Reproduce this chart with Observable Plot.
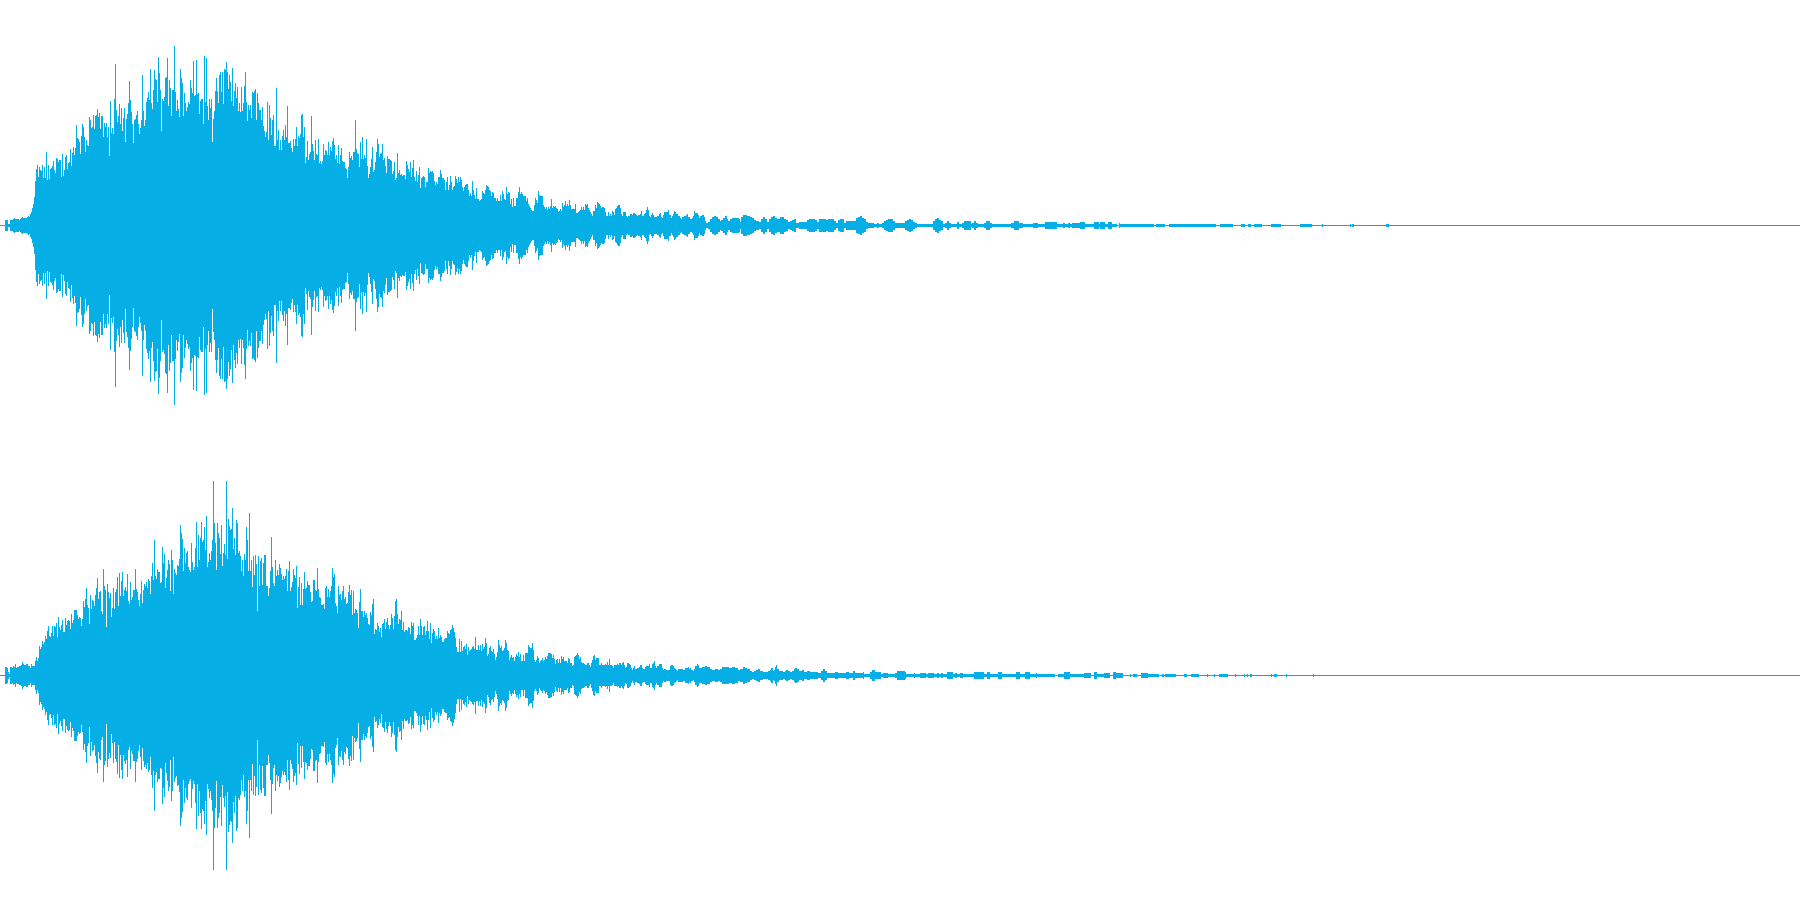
<!DOCTYPE html>
<html>
<head>
<meta charset="utf-8">
<style>
html,body{margin:0;padding:0;background:#fff;}
svg{display:block;}
</style>
<script src="https://cdn.jsdelivr.net/npm/d3@7"></script>
<script src="https://cdn.jsdelivr.net/npm/@observablehq/plot@0.6"></script>
</head>
<body>
<div id="chart"></div>
<script>
// Peak level per pixel column. One channel's envelope is mirrored about zero.
const leftIntro = [[0,0],[5,5],[8,1],[10,5],[13,6],[14,7],[15,6],[19,5],[20,6],[21,7],[22,8],[23,7],[26,7],[27,8],[28,9],[29,8]];
const leftDenseStart = 30;
const leftDense = [
11,13,17,21,28,44,56,60,48,58,
55,54,60,47,58,47,73,45,60,46,
56,57,59,64,55,52,67,66,63,65,
65,48,71,49,55,68,70,56,62,63,
76,59,72,78,70,77,100,87,86,83,
71,89,101,98,88,73,85,80,79,108,
105,97,98,110,96,109,110,116,108,112,
96,109,109,88,102,98,102,88,98,69,
124,92,97,91,126,161,115,103,109,121,
101,117,94,107,117,83,106,111,122,144,
125,113,101,82,105,106,110,114,101,91,
97,105,150,114,99,105,123,127,133,125,
156,122,116,135,155,146,145,123,168,152,
135,94,126,124,128,147,148,167,119,145,
137,109,135,135,179,133,114,125,116,108,
156,147,142,109,132,122,114,118,123,121,
145,137,132,164,129,130,165,131,132,111,
124,126,126,101,169,123,167,119,105,126,
117,126,83,106,114,134,147,134,122,150,
153,133,153,121,156,155,163,153,136,150,
143,124,157,119,134,142,127,138,114,122,
113,138,114,122,139,153,123,104,120,115,
120,107,133,132,134,136,105,132,122,115,
115,105,118,99,94,88,93,123,85,120,
107,90,105,110,79,79,137,85,95,75,
85,75,89,95,85,100,88,119,82,82,
84,77,73,86,79,86,98,79,89,87,
91,110,111,88,98,62,68,84,65,71,
73,109,81,74,65,85,71,70,86,62,
64,61,64,81,70,75,74,70,83,70,
78,74,84,87,80,66,70,62,80,61,
70,77,64,63,63,57,56,47,58,73,
67,69,65,73,73,105,76,72,71,58,
83,66,88,66,70,67,86,59,47,51,
58,66,78,53,55,63,73,86,81,68,
71,72,81,65,67,59,52,69,66,66,
65,64,51,54,63,45,47,72,52,55];
const leftTail = [[400,50],[401,51],[402,49],[403,50],[405,46],[406,64],[407,60],[408,56],[409,53],[410,63],[411,48],[412,57],[413,65],[414,48],[415,44],[416,54],[417,43],[418,50],[419,58],[420,37],[421,47],[422,48],[423,49],[424,48],[425,38],[426,43],[428,57],[429,52],[430,54],[431,53],[432,54],[433,52],[434,44],[435,40],[436,43],[437,41],[438,48],[440,55],[441,51],[442,47],[444,45],[445,35],[446,43],[447,48],[448,35],[449,40],[450,49],[451,43],[452,35],[453,38],[454,39],[455,49],[456,46],[457,42],[458,48],[459,43],[460,48],[461,45],[462,38],[463,34],[464,38],[465,40],[466,41],[468,35],[469,29],[470,32],[471,29],[472,44],[473,35],[474,30],[475,26],[476,37],[477,26],[479,24],[480,25],[481,26],[482,34],[483,32],[484,31],[485,35],[486,40],[487,39],[488,38],[489,35],[490,34],[491,29],[492,33],[493,32],[494,27],[496,24],[497,27],[498,24],[500,30],[501,24],[502,34],[503,31],[504,26],[505,25],[506,38],[507,31],[508,33],[509,32],[510,21],[511,26],[512,18],[513,27],[514,19],[516,27],[518,33],[519,38],[520,31],[521,33],[522,31],[523,29],[526,24],[527,27],[528,21],[529,19],[530,17],[531,15],[532,14],[534,20],[535,27],[536,25],[537,22],[538,34],[539,30],[540,29],[543,20],[544,18],[545,16],[546,18],[547,15],[548,18],[549,16],[550,19],[551,26],[552,17],[553,19],[554,18],[555,19],[556,17],[557,16],[558,13],[559,14],[560,16],[561,14],[562,22],[563,18],[564,20],[565,24],[566,19],[567,21],[568,19],[569,25],[570,20],[571,16],[575,21],[576,12],[578,13],[579,14],[580,15],[581,18],[582,15],[583,18],[584,15],[585,21],[586,20],[587,21],[588,17],[589,15],[590,13],[591,11],[592,9],[593,14],[595,20],[596,17],[597,23],[598,22],[599,21],[600,19],[601,17],[602,18],[604,17],[605,13],[606,9],[608,13],[609,9],[610,11],[611,9],[612,14],[613,13],[614,10],[615,16],[616,17],[617,19],[618,20],[620,17],[621,11],[622,9],[623,13],[625,13],[626,9],[627,8],[628,9],[630,11],[632,10],[633,12],[635,11],[636,10],[637,9],[638,10],[640,11],[641,14],[642,9],[644,11],[645,12],[646,15],[647,18],[648,15],[649,9],[650,8],[651,10],[652,12],[653,10],[654,8],[657,9],[659,11],[660,12],[661,8],[662,7],[663,10],[664,13],[666,13],[668,15],[669,10],[671,7],[672,9],[673,11],[674,14],[675,13],[676,11],[678,9],[680,7],[681,6],[682,8],[684,9],[686,10],[687,11],[688,8],[690,6],[692,7],[693,9],[694,14],[695,12],[697,12],[698,10],[699,7],
[700,9],[702,10],[704,8],[705,4],[706,2],[708,3],[710,6],[712,8],[714,9],[716,8],[718,6],[720,4],[721,5],[723,7],[725,9],[727,6],[728,4],[730,6],[732,7],[737,7],[739,6],[740,3],[741,8],[743,10],[745,10],[747,9],[750,8],[752,7],[754,5],[756,4],[759,3],[761,6],[763,8],[765,6],[767,3],[769,6],[771,8],[773,9],[775,7],[777,6],[780,8],[782,8],[784,6],[786,5],[788,3],[790,4],[792,5],[794,6],[796,2],[799,3],[805,3],[807,5],[809,6],[812,6],[815,5],[817,3],[819,6],[824,6],[826,5],[828,6],[832,6],[834,4],[836,2],[838,5],[840,6],[842,6],[844,2],[846,4],[848,4],[854,4],[856,7],[858,8],[860,9],[862,7],[864,6],[866,3],[868,2],[874,1],[877,2],[879,1],[882,2],[884,4],[886,5],[888,6],[891,6],[893,4],[895,2],[903,2],[905,4],[907,5],[909,6],[911,5],[913,3],[915,2],[917,1],[933,4],[935,6],[937,7],[939,5],[941,4],[943,1],[945,2],[947,4],[949,2],[951,1],[957,3],[959,1],[962,2],[964,4],[969,4],[971,1],[972,2],[974,4],[976,2],[978,1],[984,2],[986,4],[988,4],[990,2],[992,1],
[1011,2],[1014,4],[1019,2],[1023,1],[1033,2],[1038,1],[1045,3],[1057,1],[1063,2],[1065,1],[1068,2],[1070,1],[1072,2],[1080,3],[1085,1],[1094,3],[1099,1],[1100,3],[1105,1],[1108,3],[1112,1],[1117,0],[1119,2],[1120,1],[1154,0],[1156,1],[1165,0],[1169,1],[1216,0],[1220,1],[1233,0],[1241,1],[1245,0],[1248,1],[1251,0],[1254,1],[1262,0],[1271,1],[1281,0],[1300,1],[1312,0],[1322,1],[1323,0],[1350,1],[1351,0],[1352,1],[1354,0],[1386,1],[1389,0],[1800,0]];

const rightIntro = [[0,0],[5,8],[7,7],[8,3],[9,1],[10,8],[12,7],[13,9],[14,8],[15,11],[16,7],[17,8],[19,9],[21,10],[22,13],[23,11],[24,10],[26,11],[28,9],[30,7],[31,11],[32,9]];
const rightDenseStart = 35;
const rightDense = [
14,18,14,17,29,
26,28,34,31,33,39,36,44,49,39,
38,42,49,39,49,48,52,38,58,48,
45,50,55,43,43,57,50,54,55,54,
46,61,52,55,65,65,65,60,56,58,
57,49,56,74,68,76,87,70,67,51,
80,66,75,74,69,80,87,97,76,83,
84,64,61,106,89,85,48,91,83,77,
82,58,67,87,66,83,86,98,69,102,
79,94,103,79,85,88,84,101,74,71,
93,75,78,85,85,106,86,83,75,69,
81,94,72,85,91,89,93,87,96,94,
81,99,112,95,135,99,96,106,103,103,
92,93,128,112,121,87,97,105,115,111,
84,125,115,81,106,102,100,110,109,116,
150,142,136,104,127,112,122,124,108,105,
103,132,113,105,108,127,153,108,140,115,
137,153,133,135,148,125,159,108,113,122,
115,124,135,194,152,132,105,152,142,137,
121,150,109,122,131,120,194,116,156,149,
145,146,167,126,137,120,155,152,122,124,
119,104,115,99,121,115,148,135,104,162,
104,115,88,119,100,120,111,64,119,89,
114,117,90,112,120,120,89,89,79,87,
104,138,108,92,89,115,99,105,100,111,
107,101,95,99,96,99,106,84,104,114,
84,88,93,106,100,97,109,67,88,98,
70,92,70,86,103,86,87,94,90,90,
83,73,74,95,95,85,84,107,86,78,
77,70,70,71,66,87,89,78,86,78,
84,89,107,98,101,72,69,62,89,80,
81,75,84,89,76,78,71,72,83,90,
80,85,60,84,62,66,65,62,47,73,
86,64,64,58,64,60,62,57,51,50,
63,60,71,76,41,46,45,52,49,43,
47,38,51,52,56,46,53,57,50,46,
50,61,57,46,59,74,76,61,51,56];
const rightTail = [[400,55],[401,64],[402,45],[403,53],[404,43],[405,45],[407,44],[408,48],[409,47],[410,41],[411,53],[412,49],[413,52],[414,35],[416,37],[417,40],[418,49],[419,40],[420,56],[421,49],[422,40],[423,48],[424,49],[425,40],[426,44],[427,54],[428,44],[429,36],[430,52],[431,32],[432,42],[433,46],[434,44],[435,36],[436,39],[437,36],[438,47],[439,37],[440,40],[441,38],[442,33],[444,36],[445,37],[447,44],[448,42],[449,41],[450,45],[451,46],[452,50],[453,47],[454,43],[455,37],[456,28],[457,23],[459,36],[460,23],[461,34],[462,24],[463,28],[464,29],[465,26],[466,31],[467,20],[468,28],[469,24],[470,25],[471,26],[472,28],[473,29],[474,26],[475,38],[476,25],[478,30],[479,25],[480,30],[481,24],[482,31],[483,26],[484,28],[485,37],[486,32],[487,19],[488,21],[489,27],[490,29],[491,24],[492,23],[493,26],[494,21],[495,15],[496,18],[497,23],[498,35],[499,30],[500,27],[501,29],[502,24],[503,25],[504,27],[505,35],[506,32],[507,25],[508,24],[509,15],[510,18],[511,20],[512,17],[513,18],[514,14],[515,18],[516,21],[517,19],[518,23],[519,18],[520,21],[521,14],[523,20],[524,14],[525,22],[527,22],[528,30],[529,28],[530,27],[532,32],[533,25],[534,15],[535,13],[536,15],[537,19],[538,17],[539,12],[540,14],[541,15],[542,17],[543,14],[544,15],[545,18],[546,16],[547,19],[548,22],[551,21],[552,17],[553,20],[554,16],[555,11],[556,15],[557,16],[558,12],[559,16],[560,12],[561,19],[562,16],[563,18],[564,14],[566,14],[567,12],[568,17],[569,16],[570,12],[572,9],[573,10],[574,18],[575,19],[576,20],[577,22],[578,20],[579,16],[580,18],[581,13],[582,12],[584,11],[585,10],[587,12],[589,10],[590,8],[591,12],[592,15],[593,19],[594,20],[595,15],[596,17],[599,10],[601,12],[602,10],[604,10],[605,11],[606,10],[607,13],[608,10],[609,16],[610,10],[612,9],[613,7],[614,10],[617,11],[618,10],[619,12],[621,10],[622,12],[623,13],[624,10],[625,7],[626,8],[627,12],[629,11],[630,10],[631,7],[632,5],[633,7],[634,9],[635,6],[637,7],[639,8],[640,10],[642,7],[643,6],[645,8],[646,9],[648,9],[649,11],[650,7],[652,11],[653,12],[654,14],[655,9],[656,7],[657,9],[659,11],[661,11],[662,7],[663,5],[664,6],[666,5],[670,9],[671,10],[673,9],[674,7],[675,6],[676,5],[677,4],[678,6],[683,5],[685,7],[688,8],[689,6],[690,7],[691,5],[693,4],[694,6],[695,9],[697,11],[698,10],[699,7],
[700,7],[702,8],[705,9],[707,8],[710,6],[712,5],[715,6],[718,5],[720,6],[722,8],[725,8],[729,7],[732,8],[735,7],[738,5],[740,6],[743,8],[745,7],[747,6],[750,4],[752,3],[754,4],[756,5],[758,6],[760,4],[763,3],[768,4],[770,5],[771,7],[773,4],[774,5],[775,8],[776,10],[777,6],[779,4],[783,3],[785,4],[786,5],[788,4],[790,3],[792,4],[794,6],[795,7],[797,6],[799,4],[802,5],[804,3],[807,4],[810,3],[818,2],[821,4],[823,6],[825,4],[827,2],[835,3],[838,2],[846,3],[849,2],[853,4],[855,2],[863,3],[864,1],[870,3],[872,5],[875,3],[881,1],[883,2],[888,1],[895,2],[897,4],[902,4],[905,3],[906,1],[914,2],[915,1],[920,2],[926,1],[928,2],[934,1],[937,2],[939,1],[941,2],[943,1],[947,3],[953,1],[955,2],[957,1],[960,2],[963,1],[974,3],[984,1],[987,3],[990,1],[998,3],[1002,1],[1016,3],[1020,1],[1025,3],[1030,1],[1036,2],[1037,1],[1055,0],[1058,1],[1064,3],[1070,1],[1082,1],[1084,2],[1091,0],[1094,3],[1097,1],[1104,2],[1110,0],[1113,3],[1116,2],[1123,0],[1130,1],[1131,0],[1133,1],[1137,0],[1141,2],[1148,1],[1155,1],[1159,0],[1162,1],[1164,0],[1165,1],[1176,0],[1184,1],[1187,0],[1191,1],[1199,0],[1207,1],[1208,0],[1214,1],[1215,0],[1219,1],[1228,0],[1235,1],[1236,0],[1244,1],[1245,0],[1247,1],[1248,0],[1250,1],[1252,0],[1271,1],[1272,0],[1274,1],[1277,0],[1286,1],[1287,0],[1313,1],[1314,0],[1800,0]];

const waveFill = "#06aee6";
const baseLine = "#1c9fd9";

function channel(intro, denseStart, dense, tail) {
  const columns = [
    ...intro,
    ...dense.map((level, i) => [denseStart + i, level]),
    ...tail
  ];
  return columns.map(([sample, level]) => ({sample, level}));
}

function waveform(rows) {
  const edge = d => d.level > 0 ? d.level + 0.5 : 0;
  return Plot.plot({
    width: 1800,
    height: 450,
    margin: 0,
    style: {background: "transparent"},
    x: {domain: [0, 1800], range: [0, 1800], axis: null},
    y: {domain: [-225, 225], range: [450.5, 0.5], axis: null},
    marks: [
      Plot.ruleY([0], {stroke: baseLine, strokeWidth: 1, dy: -0.5}),
      Plot.area(rows, {
        x1: "sample",
        y1: d => -edge(d),
        y2: edge,
        curve: "step-after",
        fill: waveFill,
        shapeRendering: "crispEdges"
      })
    ]
  });
}

const host = document.getElementById("chart");
host.append(waveform(channel(leftIntro, leftDenseStart, leftDense, leftTail)));
host.append(waveform(channel(rightIntro, rightDenseStart, rightDense, rightTail)));
</script>
</body>
</html>
